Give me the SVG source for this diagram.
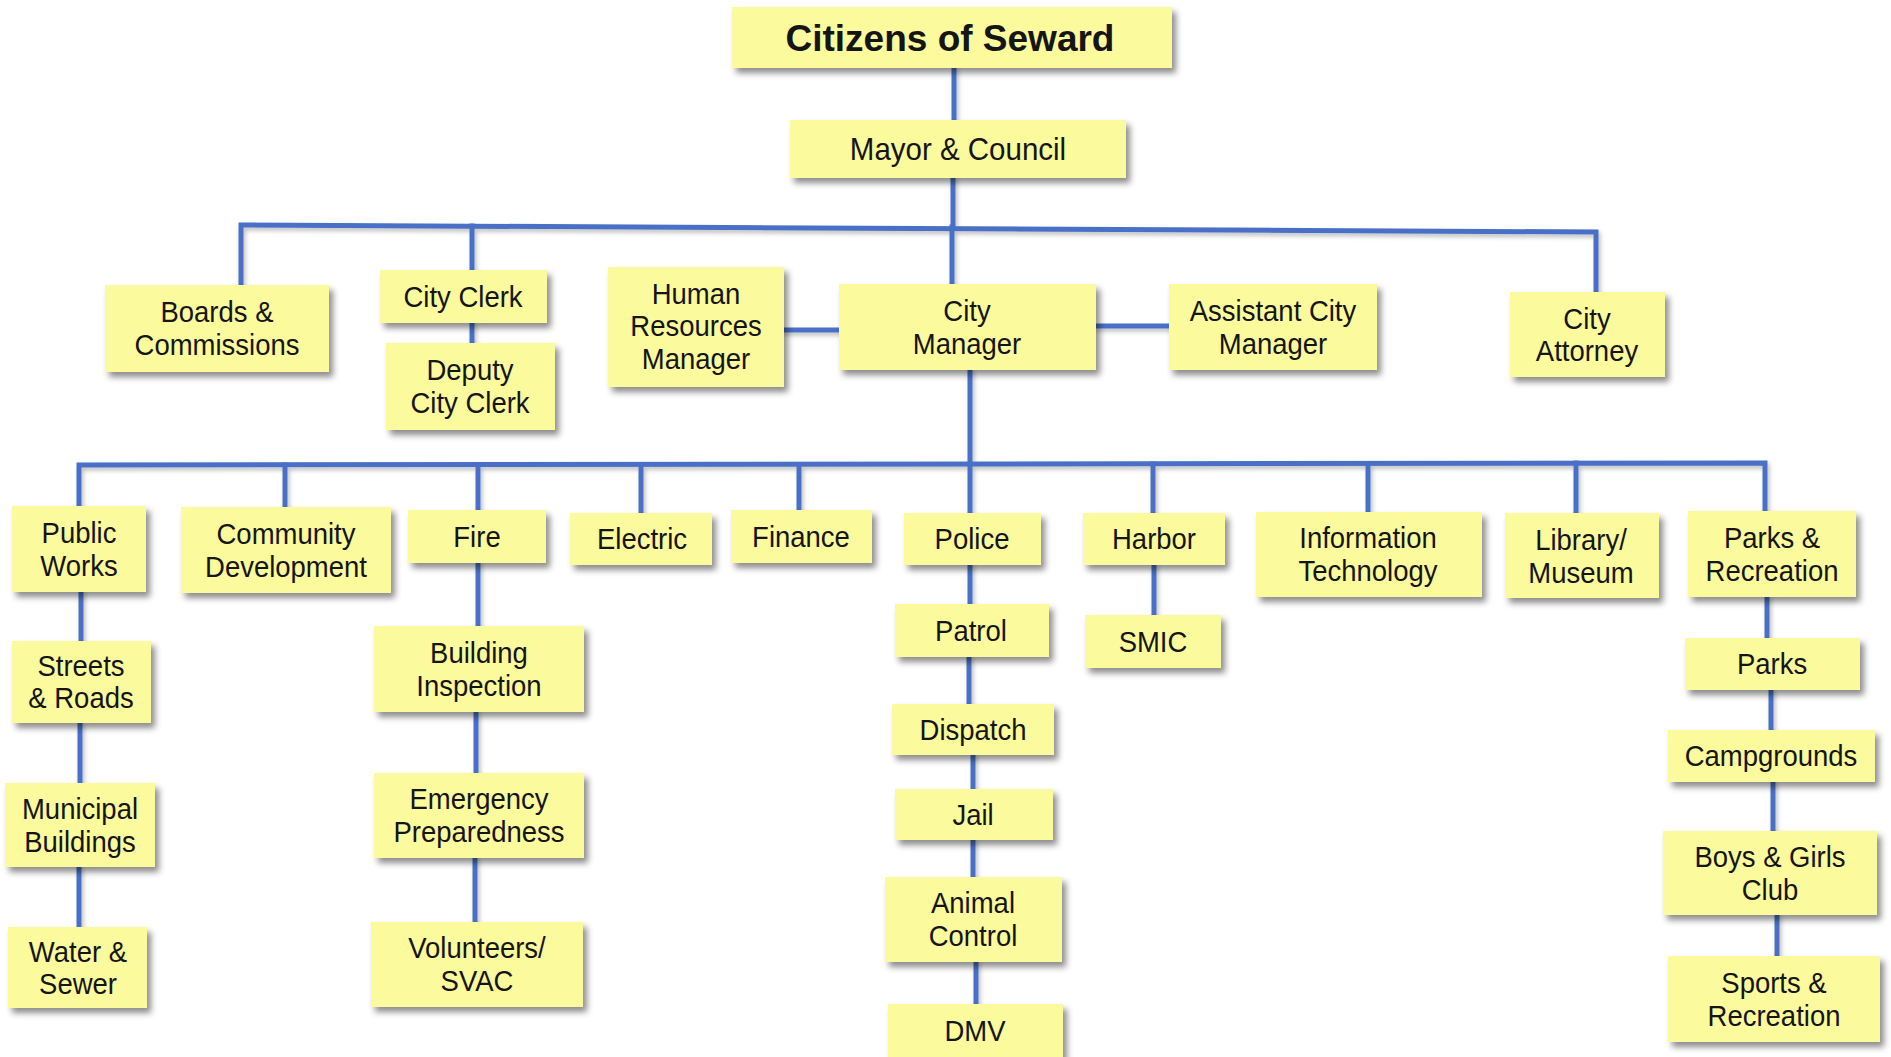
<svg xmlns="http://www.w3.org/2000/svg" width="1891" height="1057" viewBox="0 0 1891 1057">
<defs>
<filter id="sh" x="-10%" y="-10%" width="130%" height="140%">
<feDropShadow dx="4" dy="5" stdDeviation="3" flood-color="#000" flood-opacity="0.45"/>
</filter>
<filter id="lsh" x="-5%" y="-5%" width="110%" height="110%">
<feDropShadow dx="2" dy="3" stdDeviation="2" flood-color="#000" flood-opacity="0.25"/>
</filter>
<style>
.box{fill:#FBFA9C;filter:url(#sh)}
.t{font-family:"Liberation Sans",Arial,sans-serif;font-size:27.5px;fill:#151515;text-anchor:middle;dominant-baseline:central}
.m{font-size:29.5px}
.title{font-size:37px;font-weight:bold}
.c{stroke:#4870C6;stroke-width:5;fill:none;stroke-linecap:square}
</style>
</defs>
<rect width="1891" height="1057" fill="#fff"/>
<g id="connectors" filter="url(#lsh)">
<path class="c" d="M954 68V120"/>
<path class="c" d="M953 178V226"/>
<path class="c" d="M241 285V225L1596 232V292"/>
<path class="c" d="M472 226V270"/>
<path class="c" d="M472 323V343"/>
<path class="c" d="M952 227V284"/>
<path class="c" d="M784 330H839"/>
<path class="c" d="M1096 326H1169"/>
<path class="c" d="M970 370V513"/>
<path class="c" d="M79 506V465L1765 463V511"/>
<path class="c" d="M285 465V507"/>
<path class="c" d="M478 465V510"/>
<path class="c" d="M641 465V513"/>
<path class="c" d="M799 465V510"/>
<path class="c" d="M1153 464V513"/>
<path class="c" d="M1368 464V512"/>
<path class="c" d="M1576 463V513"/>
<path class="c" d="M81 592V641"/>
<path class="c" d="M80 723V783"/>
<path class="c" d="M79 867V927"/>
<path class="c" d="M478 563V626"/>
<path class="c" d="M476 712V773"/>
<path class="c" d="M475 858V922"/>
<path class="c" d="M970 565V604"/>
<path class="c" d="M969 657V704"/>
<path class="c" d="M973 755V789"/>
<path class="c" d="M973 840V877"/>
<path class="c" d="M976 962V1004"/>
<path class="c" d="M1154 565V615"/>
<path class="c" d="M1767 597V638"/>
<path class="c" d="M1771 690V730"/>
<path class="c" d="M1773 782V831"/>
<path class="c" d="M1777 915V956"/>
</g>
<g id="citizens"><rect class="box" x="732" y="7" width="440" height="61"/><text class="t title" x="950" y="38">Citizens of Seward</text></g>
<g id="mayor"><rect class="box" x="790" y="120" width="336" height="58"/><text class="t m" transform="translate(958 149) scale(1 1.08)">Mayor &amp; Council</text></g>
<g id="boards"><rect class="box" x="105" y="285" width="224" height="87"/><text class="t" transform="translate(217 312) scale(1 1.1)">Boards &amp;</text><text class="t" transform="translate(217 345) scale(1 1.1)">Commissions</text></g>
<g id="city-clerk"><rect class="box" x="380" y="270" width="167" height="53"/><text class="t" transform="translate(463 297) scale(1 1.1)">City Clerk</text></g>
<g id="deputy-clerk"><rect class="box" x="386" y="343" width="169" height="87"/><text class="t" transform="translate(470 370) scale(1 1.1)">Deputy</text><text class="t" transform="translate(470 403) scale(1 1.1)">City Clerk</text></g>
<g id="hr"><rect class="box" x="608" y="267" width="176" height="120"/><text class="t" transform="translate(696 294) scale(1 1.1)">Human</text><text class="t" transform="translate(696 326) scale(1 1.1)">Resources</text><text class="t" transform="translate(696 359) scale(1 1.1)">Manager</text></g>
<g id="city-manager"><rect class="box" x="839" y="284" width="257" height="86"/><text class="t" transform="translate(967 311) scale(1 1.1)">City</text><text class="t" transform="translate(967 344) scale(1 1.1)">Manager</text></g>
<g id="assistant"><rect class="box" x="1169" y="284" width="208" height="86"/><text class="t" transform="translate(1273 311) scale(1 1.1)">Assistant City</text><text class="t" transform="translate(1273 344) scale(1 1.1)">Manager</text></g>
<g id="attorney"><rect class="box" x="1510" y="292" width="155" height="85"/><text class="t" transform="translate(1587 319) scale(1 1.1)">City</text><text class="t" transform="translate(1587 351) scale(1 1.1)">Attorney</text></g>
<g id="public-works"><rect class="box" x="12" y="506" width="134" height="86"/><text class="t" transform="translate(79 533) scale(1 1.1)">Public</text><text class="t" transform="translate(79 566) scale(1 1.1)">Works</text></g>
<g id="community"><rect class="box" x="181" y="507" width="210" height="86"/><text class="t" transform="translate(286 534) scale(1 1.1)">Community</text><text class="t" transform="translate(286 567) scale(1 1.1)">Development</text></g>
<g id="fire"><rect class="box" x="408" y="510" width="138" height="53"/><text class="t" transform="translate(477 537) scale(1 1.1)">Fire</text></g>
<g id="electric"><rect class="box" x="570" y="513" width="142" height="52"/><text class="t" transform="translate(642 539) scale(1 1.1)">Electric</text></g>
<g id="finance"><rect class="box" x="731" y="510" width="141" height="53"/><text class="t" transform="translate(801 537) scale(1 1.1)">Finance</text></g>
<g id="police"><rect class="box" x="904" y="513" width="137" height="52"/><text class="t" transform="translate(972 539) scale(1 1.1)">Police</text></g>
<g id="harbor"><rect class="box" x="1083" y="513" width="142" height="52"/><text class="t" transform="translate(1154 539) scale(1 1.1)">Harbor</text></g>
<g id="it"><rect class="box" x="1256" y="512" width="226" height="85"/><text class="t" transform="translate(1368 538) scale(1 1.1)">Information</text><text class="t" transform="translate(1368 571) scale(1 1.1)">Technology</text></g>
<g id="library"><rect class="box" x="1505" y="513" width="154" height="85"/><text class="t" transform="translate(1581 540) scale(1 1.1)">Library/</text><text class="t" transform="translate(1581 573) scale(1 1.1)">Museum</text></g>
<g id="parks-rec"><rect class="box" x="1688" y="511" width="168" height="86"/><text class="t" transform="translate(1772 538) scale(1 1.1)">Parks &amp;</text><text class="t" transform="translate(1772 571) scale(1 1.1)">Recreation</text></g>
<g id="streets"><rect class="box" x="12" y="641" width="139" height="82"/><text class="t" transform="translate(81 666) scale(1 1.1)">Streets</text><text class="t" transform="translate(81 698) scale(1 1.1)">&amp; Roads</text></g>
<g id="building"><rect class="box" x="374" y="626" width="210" height="86"/><text class="t" transform="translate(479 653) scale(1 1.1)">Building</text><text class="t" transform="translate(479 686) scale(1 1.1)">Inspection</text></g>
<g id="patrol"><rect class="box" x="895" y="604" width="154" height="53"/><text class="t" transform="translate(971 631) scale(1 1.1)">Patrol</text></g>
<g id="smic"><rect class="box" x="1085" y="615" width="136" height="53"/><text class="t" transform="translate(1153 642) scale(1 1.1)">SMIC</text></g>
<g id="parks"><rect class="box" x="1685" y="638" width="175" height="52"/><text class="t" transform="translate(1772 664) scale(1 1.1)">Parks</text></g>
<g id="dispatch"><rect class="box" x="892" y="704" width="162" height="51"/><text class="t" transform="translate(973 730) scale(1 1.1)">Dispatch</text></g>
<g id="campgrounds"><rect class="box" x="1668" y="730" width="207" height="52"/><text class="t" transform="translate(1771 756) scale(1 1.1)">Campgrounds</text></g>
<g id="municipal"><rect class="box" x="5" y="783" width="150" height="84"/><text class="t" transform="translate(80 809) scale(1 1.1)">Municipal</text><text class="t" transform="translate(80 842) scale(1 1.1)">Buildings</text></g>
<g id="emergency"><rect class="box" x="374" y="773" width="210" height="85"/><text class="t" transform="translate(479 799) scale(1 1.1)">Emergency</text><text class="t" transform="translate(479 832) scale(1 1.1)">Preparedness</text></g>
<g id="jail"><rect class="box" x="895" y="789" width="158" height="51"/><text class="t" transform="translate(973 815) scale(1 1.1)">Jail</text></g>
<g id="boys-girls"><rect class="box" x="1663" y="831" width="214" height="84"/><text class="t" transform="translate(1770 857) scale(1 1.1)">Boys &amp; Girls</text><text class="t" transform="translate(1770 890) scale(1 1.1)">Club</text></g>
<g id="animal"><rect class="box" x="885" y="877" width="177" height="85"/><text class="t" transform="translate(973 903) scale(1 1.1)">Animal</text><text class="t" transform="translate(973 936) scale(1 1.1)">Control</text></g>
<g id="water"><rect class="box" x="8" y="927" width="139" height="81"/><text class="t" transform="translate(78 952) scale(1 1.1)">Water &amp;</text><text class="t" transform="translate(78 984) scale(1 1.1)">Sewer</text></g>
<g id="volunteers"><rect class="box" x="371" y="922" width="212" height="85"/><text class="t" transform="translate(477 948) scale(1 1.1)">Volunteers/</text><text class="t" transform="translate(477 981) scale(1 1.1)">SVAC</text></g>
<g id="sports"><rect class="box" x="1668" y="956" width="212" height="86"/><text class="t" transform="translate(1774 983) scale(1 1.1)">Sports &amp;</text><text class="t" transform="translate(1774 1016) scale(1 1.1)">Recreation</text></g>
<g id="dmv"><rect class="box" x="888" y="1004" width="175" height="56"/><text class="t" transform="translate(975 1031) scale(1 1.1)">DMV</text></g>
</svg>
